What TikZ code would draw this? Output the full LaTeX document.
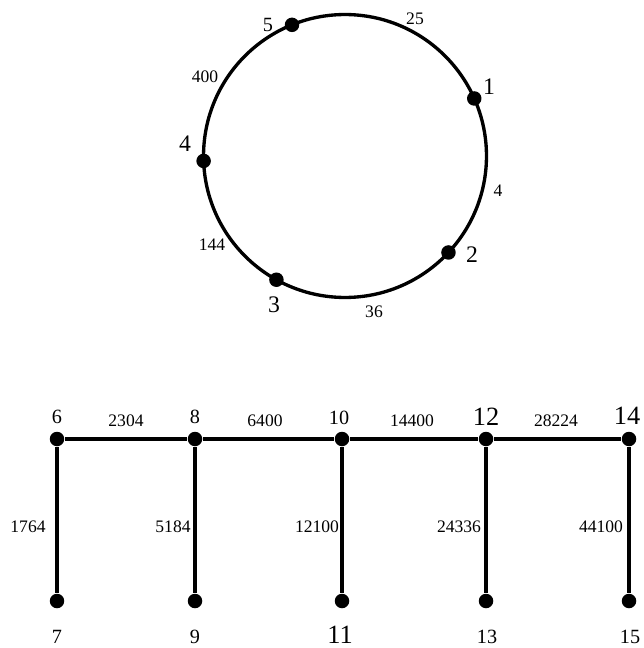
\documentclass[tikz,border=0pt]{standalone}
\usepackage{fontspec}
\setmainfont{Liberation Serif}
\usetikzlibrary{positioning}

\begin{document}
\begin{tikzpicture}[
  x=0.02cm, y=-0.02cm,
  vtx/.style  = {circle, fill=black, inner sep=0pt, minimum size=0.29cm},
  edg/.style  = {line width=1.9pt},
  vlbl/.style = {font=\fontsize{13.5}{15}\selectfont, inner sep=0pt},
  slbl/.style = {font=\fontsize{11.5}{13}\selectfont, inner sep=0pt},
  blbl/.style = {font=\fontsize{15}{17}\selectfont, inner sep=0pt},
  wlbl/.style = {font=\fontsize{10}{12}\selectfont, inner sep=0pt},
]
\useasboundingbox (0,0) rectangle (643,648);

%% ------------------------------------------------------------------ CYCLE
\coordinate (cen) at (345,156);
\draw[edg] (cen) circle[radius=2.83cm];
\foreach \n/\a in {1/24, 2/-43, 3/-119, 4/182, 5/112}
  { \path (cen) ++(\a:2.83cm) node[vtx] (v\n) {}; }

\node[vlbl] (l1) at (489,87)  {1};
\node[vlbl] (l2) at (472,255) {2};
\node[vlbl] (l3) at (274,305) {3};
\node[vlbl] (l4) at (185,144) {4};
\node[slbl] (l5) at (268,25)  {5};

\node[wlbl] (w15) at (415,19)  {25};
\node[wlbl] (w12) at (498,191) {4};
\node[wlbl] (w23) at (374,312) {36};
\node[wlbl] (w34) at (212,245) {144};
\node[wlbl] (w45) at (205,77)  {400};

%% ------------------------------------------------------------------ COMB
\foreach \n/\x in {6/57, 8/195, 10/342, 12/486, 14/629}
  { \node[vtx] (v\n) at (\x,439) {}; }
\foreach \n/\x in {7/57, 9/195, 11/342, 13/486, 15/629}
  { \node[vtx] (v\n) at (\x,601) {}; }

\draw[edg] (v6) -- (v8) -- (v10) -- (v12) -- (v14);
\foreach \a/\b in {6/7, 8/9, 10/11, 12/13, 14/15}
  { \draw[edg] (v\a) -- (v\b); }

\node[slbl] (l6)  at (57,417)  {6};
\node[slbl] (l8)  at (195,417) {8};
\node[slbl] (l10) at (339,418) {10};
\node[blbl] (l12) at (486,417) {12};
\node[blbl] (l14) at (627,416) {14};
\node[slbl] (l7)  at (57,637)  {7};
\node[slbl] (l9)  at (195,637) {9};
\node[blbl] (l11) at (340,635) {11};
\node[slbl] (l13) at (487,637) {13};
\node[slbl] (l15) at (630,637) {15};

\node[wlbl] (w68)   at (126,421) {2304};
\node[wlbl] (w810)  at (265,421) {6400};
\node[wlbl] (w1012) at (412,421) {14400};
\node[wlbl] (w1214) at (556,421) {28224};

\node[wlbl] (w67)   at (28,527)  {1764};
\node[wlbl] (w89)   at (173,527) {5184};
\node[wlbl] (w1011) at (317,527) {12100};
\node[wlbl] (w1213) at (459,527) {24336};
\node[wlbl] (w1415) at (601,527) {44100};

\end{tikzpicture}
\end{document}
